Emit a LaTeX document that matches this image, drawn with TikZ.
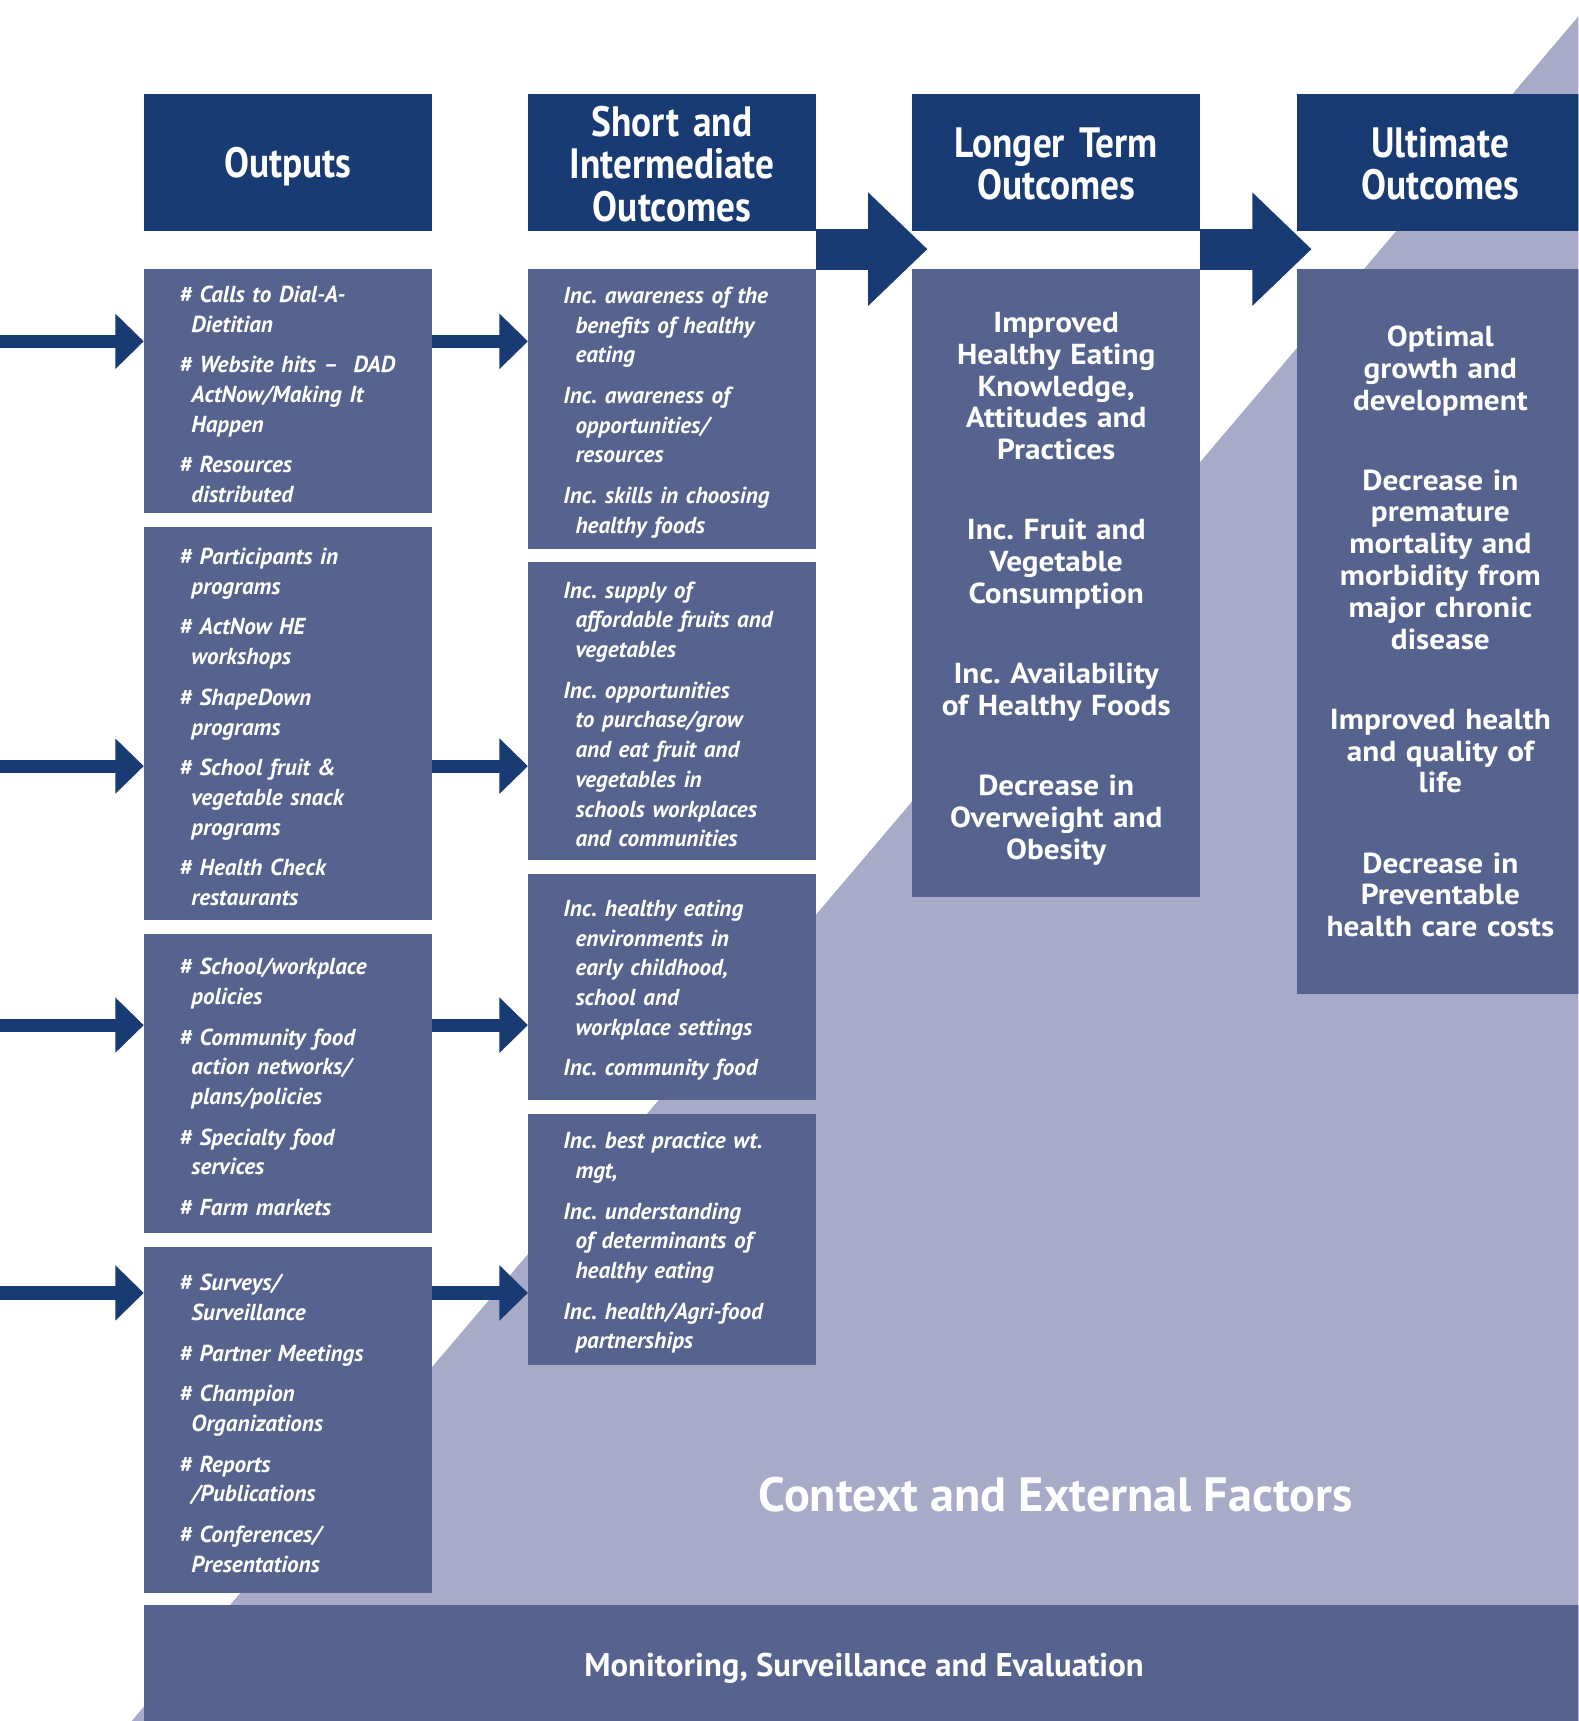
\documentclass[tikz,border=0pt]{standalone}
\usepackage{fontspec}
\setmainfont{PT Sans}
\newfontfamily\headfont[FakeStretch=0.88, Ligatures=TeX]{PT Sans}
\newfontfamily\itemfont[Ligatures=TeX]{PT Sans}
\newfontfamily\bodyfont[FakeStretch=1.08, Ligatures=TeX]{PT Sans}
\usepackage{tikz}
\usetikzlibrary{arrows.meta, positioning, calc}
\definecolor{navy}{RGB}{24,59,115}
\definecolor{slate}{RGB}{86,99,143}
\definecolor{lavender}{RGB}{167,171,199}
\newcommand{\ind}{\hspace*{0.22cm}}
\newcommand{\pullup}[1]{\par\vspace{#1}}

\begin{document}
\begin{tikzpicture}[x=0.02cm, y=-0.02cm,
    headbox/.style={fill=navy, text=white, anchor=north west, inner sep=0pt, text width=5.24cm, minimum height=2.5cm, align=center, font=\headfont\bfseries\fontsize{22}{22}\selectfont, execute at end node={\pullup{-0.06cm}}},
    itembox/.style={fill=slate, text=white, anchor=north west, inner sep=0pt, text width=5.24cm, align=left, font=\itemfont\bfseries\itshape\fontsize{12}{15.4}\selectfont\frenchspacing, execute at begin node={\leftskip=0.64cm}, execute at end node={\pullup{-0.12cm}}},
    resultbox/.style={fill=slate, text=white, anchor=north west, inner sep=0pt, text width=5.24cm, align=center, font=\bodyfont\bfseries\fontsize{15}{16.5}\selectfont\frenchspacing},
    smallarrow/.style={draw=navy, line width=0.24cm, -{Triangle[length=0.52cm, width=0.98cm]}},
    bigarrow/.style={draw=navy, line width=0.75cm, -{Triangle[length=1.08cm, width=2.0cm]}}]
    \path[use as bounding box, clip] (0,0) rectangle (1438,1568);
    \fill[lavender] (1438,15) -- (1438,1568) -- (120,1568) -- cycle;

    \node[headbox, execute at end node={\pullup{-0.24cm}}] (ho) at (131,85) {Outputs};
    \node[headbox] (hs) at (481,85) {Short and\\Intermediate\\Outcomes};
    \node[headbox] (hl) at (831,85) {Longer Term\\Outcomes};
    \node[headbox] (hu) at (1181,85) {Ultimate\\Outcomes};

    \node[itembox, minimum height=4.44cm] (o1) at (131,245) {\# Calls to Dial-A-\\ \ind Dietitian\\[0.2cm] \# Website hits –\ \ DAD\\ \ind ActNow/Making It\\ \ind Happen\\[0.2cm] \# Resources\\ \ind distributed};
    \node[itembox, minimum height=7.16cm] (o2) at (131,480) {\# Participants in\\ \ind programs\\[0.2cm] \# ActNow HE\\ \ind workshops\\[0.2cm] \# ShapeDown\\ \ind programs\\[0.2cm] \# School fruit \&\\ \ind vegetable snack\\ \ind programs\\[0.2cm] \# Health Check\\ \ind restaurants};
    \node[itembox, minimum height=5.44cm] (o3) at (131,851) {\# School/workplace\\ \ind policies\\[0.2cm] \# Community food\\ \ind action networks/\\ \ind plans/policies\\[0.2cm] \# Specialty food\\ \ind services\\[0.2cm] \# Farm markets};
    \node[itembox, minimum height=6.30cm] (o4) at (131,1136) {\# Surveys/\\ \ind Surveillance\\[0.2cm] \# Partner Meetings\\[0.2cm] \# Champion\\ \ind Organizations\\[0.2cm] \# Reports\\ \ind /Publications\\[0.2cm] \# Conferences/\\ \ind Presentations};

    \node[itembox, minimum height=5.10cm] (s1) at (481,245) {Inc. awareness of the\\ \ind benefits of healthy\\ \ind eating\\[0.2cm] Inc. awareness of\\ \ind opportunities/\\ \ind resources\\[0.2cm] Inc. skills in choosing\\ \ind healthy foods};
    \node[itembox, minimum height=5.42cm] (s2) at (481,512) {Inc. supply of\\ \ind affordable fruits and\\ \ind vegetables\\[0.2cm] Inc. opportunities\\ \ind to purchase/grow\\ \ind and eat fruit and\\ \ind vegetables in\\ \ind schools workplaces\\ \ind and communities};
    \node[itembox, minimum height=4.12cm] (s3) at (481,796) {Inc. healthy eating\\ \ind environments in\\ \ind early childhood,\\ \ind school and\\ \ind workplace settings\\[0.2cm] Inc. community food};
    \node[itembox, minimum height=4.56cm] (s4) at (481,1015) {Inc. best practice wt.\\ \ind mgt,\\[0.2cm] Inc. understanding\\ \ind of determinants of\\ \ind healthy eating\\[0.2cm] Inc. health/Agri-food\\ \ind partnerships};

    \node[resultbox, minimum height=11.44cm, execute at end node={\pullup{-0.2cm}}] (lt) at (831,245) {Improved\\Healthy Eating\\Knowledge,\\Attitudes and\\Practices\\[0.88cm] Inc. Fruit and\\Vegetable\\Consumption\\[0.88cm] Inc. Availability\\of Healthy Foods\\[0.88cm] Decrease in\\Overweight and\\Obesity};
    \node[resultbox, minimum height=13.2cm] (ut) at (1181,245) {Optimal\\growth and\\development\\[0.88cm] Decrease in\\premature\\mortality and\\morbidity from\\major chronic\\disease\\[0.88cm] Improved health\\and quality of\\life\\[0.88cm] Decrease in\\Preventable\\health care costs};

    \node[fill=slate, text=white, anchor=north west, inner sep=0pt, minimum width=26.24cm, minimum height=2.3cm, font=\bfseries\fontsize{17}{17}\selectfont] (mse) at (131,1462) {Monitoring, Surveillance and Evaluation};
    \node[text=white, font=\bfseries\fontsize{25}{25}\selectfont] (ctx) at (962,1362) {Context and External Factors};

    \coordinate (r1) at (0,311);
    \coordinate (r2) at (0,698);
    \coordinate (r3) at (0,934);
    \coordinate (r4) at (0,1178);
    \coordinate (r0) at (0,227);
    \foreach \r/\o/\s in {r1/o1/s1, r2/o2/s2, r3/o3/s3, r4/o4/s4} {
        \draw[smallarrow] (\r) -- (\r -| \o.west);
        \draw[smallarrow] (\r -| \o.east) -- (\r -| \s.west);
    }
    \draw[bigarrow] (r0 -| hs.east) -- ($(r0 -| hl.west)+(14,0)$);
    \draw[bigarrow] (r0 -| hl.east) -- ($(r0 -| hu.west)+(14,0)$);
\end{tikzpicture}
\end{document}
